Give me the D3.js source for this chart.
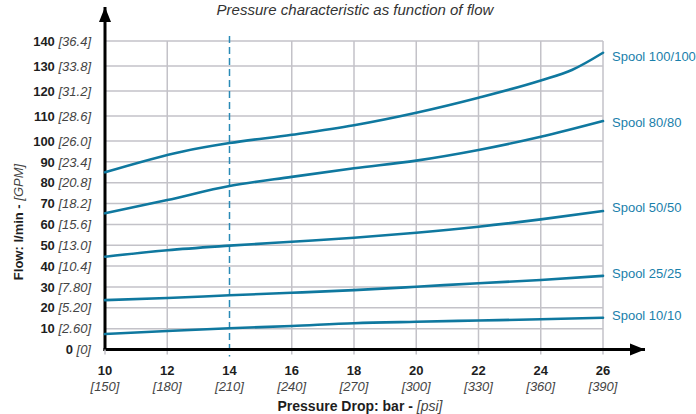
<!DOCTYPE html>
<html>
<head>
<meta charset="utf-8">
<script src="https://cdn.jsdelivr.net/npm/d3@7"></script>
<style>
  html, body { margin: 0; padding: 0; background: #fff; }
  svg { display: block; font-family: "Liberation Sans", Arial, Helvetica, sans-serif; }
</style>
</head>
<body>
<svg id="chart" width="696" height="414"></svg>
<script>
// ---- data ----
const pressureBar = [10, 12, 14, 16, 18, 20, 22, 24, 26];
const pressurePsi = ["[150]", "[180]", "[210]", "[240]", "[270]", "[300]", "[330]", "[360]", "[390]"];
const flowTicks = [0, 10, 20, 30, 40, 50, 60, 70, 80, 90, 100, 110, 120, 130, 140];
const flowGpm = ["[0]", "[2.60]", "[5.20]", "[7.80]", "[10.4]", "[13.0]", "[15.6]", "[18.2]", "[20.8]", "[23.4]", "[26.0]", "[28.6]", "[31.2]", "[33.8]", "[36.4]"];

const spool100x = [10, 12.5, 14, 16, 18, 20, 22, 24, 25, 26];
const spool100y = [85, 95, 99, 102.5, 106.3, 111.3, 117.3, 124.2, 128.4, 135.3];
const spool80x = [10, 12, 14, 16, 18, 20, 22, 24, 26];
const spool80y = [65.3, 71.7, 78.4, 82.8, 86.9, 90.6, 95.7, 101.7, 108];
const spool50x = [10, 12, 14, 16, 18, 20, 22, 24, 26];
const spool50y = [44.5, 47.6, 49.8, 51.7, 53.6, 56, 58.9, 62.4, 66.4];
const spool25x = [10, 12, 14, 16, 18, 20, 22, 24, 26];
const spool25y = [23.7, 24.7, 26, 27.2, 28.5, 30.1, 31.8, 33.3, 35.3];
const spool10x = [10, 12, 14, 16, 18, 20, 22, 24, 26];
const spool10y = [7.4, 8.9, 10.2, 11.3, 12.6, 13.3, 13.9, 14.5, 15.2];
const spoolNames = ["Spool 100/100", "Spool 80/80", "Spool 50/50", "Spool 25/25", "Spool 10/10"];

const title = "Pressure characteristic as function of flow";
const referencePressure = 14;

// ---- layout ----
const svg = d3.select("#chart");
const x = d3.scaleLinear().domain([10, 26]).range([105, 603]);
const y = d3.scaleLinear().domain([0, 100, 140]).range([349.5, 141, 41]);

const lineColor = "#0f789f";
const textColor = "#1a80ab";
const gridColor = "#c3c2c8";

// grid
const g = svg.append("g");
g.selectAll("line.h").data(flowTicks.filter(d => d > 0)).join("line")
  .attr("x1", x(10)).attr("x2", x(26))
  .attr("y1", d => y(d)).attr("y2", d => y(d))
  .attr("stroke", gridColor).attr("stroke-width", 1.5);
g.selectAll("line.v").data(pressureBar.filter(d => d > 10 && d !== referencePressure)).join("line")
  .attr("x1", d => x(d)).attr("x2", d => x(d))
  .attr("y1", y(140)).attr("y2", y(0) + 5)
  .attr("stroke", gridColor).attr("stroke-width", 1.5);

// reference dashed line
svg.append("line")
  .attr("x1", x(referencePressure)).attr("x2", x(referencePressure))
  .attr("y1", y(140) - 5).attr("y2", y(0) + 7)
  .attr("stroke", "#2a8ab6").attr("stroke-width", 1.5)
  .attr("stroke-dasharray", "7,4");

// axes with arrows
const defs = svg.append("defs");
defs.append("marker").attr("id", "arr").attr("viewBox", "0 0 10 10")
  .attr("refX", 10).attr("refY", 5).attr("markerWidth", 6).attr("markerHeight", 5)
  .attr("markerUnits", "strokeWidth").attr("orient", "auto")
  .append("path").attr("d", "M0,1 L10,5 L0,9 Z").attr("fill", "#000");
svg.append("line")
  .attr("x1", x(10)).attr("x2", x(10)).attr("y1", y(0) + 1.5).attr("y2", 7)
  .attr("stroke", "#000").attr("stroke-width", 3).attr("marker-end", "url(#arr)");
svg.append("line")
  .attr("x1", x(10) - 1.5).attr("x2", 645).attr("y1", y(0)).attr("y2", y(0))
  .attr("stroke", "#000").attr("stroke-width", 3).attr("marker-end", "url(#arr)");
// x tick at start
svg.append("line").attr("x1", x(10)).attr("x2", x(10)).attr("y1", y(0)).attr("y2", y(0) + 5)
  .attr("stroke", gridColor).attr("stroke-width", 1.5);

// y tick labels
const yl = svg.append("g").attr("font-size", 13);
flowTicks.forEach((v, i) => {
  const t = yl.append("text").attr("x", 91).attr("y", y(v)).attr("dy", "0.36em").attr("text-anchor", "end");
  t.append("tspan").attr("font-weight", "bold").attr("fill", "#1e1e1e").text(v + " ");
  t.append("tspan").attr("font-style", "italic").attr("fill", "#444").text(flowGpm[i]);
});

// x tick labels
const xl = svg.append("g").attr("font-size", 13).attr("text-anchor", "middle");
pressureBar.forEach((v, i) => {
  xl.append("text").attr("x", x(v)).attr("y", 375).attr("font-weight", "bold").attr("fill", "#1e1e1e").text(v);
  xl.append("text").attr("x", x(v)).attr("y", 391).attr("font-style", "italic").attr("fill", "#444").text(pressurePsi[i]);
});

// axis titles
const xt = svg.append("text").attr("x", 360).attr("y", 411).attr("text-anchor", "middle").attr("font-size", 14);
xt.append("tspan").attr("font-weight", "bold").attr("fill", "#1e1e1e").text("Pressure Drop: bar - ");
xt.append("tspan").attr("font-style", "italic").attr("fill", "#444").text("[psi]");

const yt = svg.append("text").attr("transform", "translate(23,222) rotate(-90)").attr("text-anchor", "middle").attr("font-size", 13);
yt.append("tspan").attr("font-weight", "bold").attr("fill", "#1e1e1e").text("Flow: l/min - ");
yt.append("tspan").attr("font-style", "italic").attr("fill", "#444").text("[GPM]");

svg.append("text").attr("x", 355).attr("y", 15).attr("text-anchor", "middle")
  .attr("font-size", 15).attr("font-style", "italic").attr("fill", "#333").text(title);

// series
const series = [
  { name: spoolNames[0], xs: spool100x, ys: spool100y, dy: 3.5 },
  { name: spoolNames[1], xs: spool80x, ys: spool80y, dy: 1 },
  { name: spoolNames[2], xs: spool50x, ys: spool50y, dy: -3.5 },
  { name: spoolNames[3], xs: spool25x, ys: spool25y, dy: -3 },
  { name: spoolNames[4], xs: spool10x, ys: spool10y, dy: -2.5 }
];
const line = d3.line().x(d => x(d[0])).y(d => y(d[1])).curve(d3.curveMonotoneX);
series.forEach(s => {
  const pts = s.xs.map((v, i) => [v, s.ys[i]]);
  svg.append("path").attr("d", line(pts)).attr("fill", "none")
    .attr("stroke", lineColor).attr("stroke-width", 2.6).attr("stroke-linecap", "round");
  const last = pts[pts.length - 1];
  svg.append("text").attr("x", x(last[0]) + 9).attr("y", y(last[1]) + s.dy).attr("dy", "0.36em")
    .attr("font-size", 13).attr("fill", textColor).text(s.name);
});
</script>
</body>
</html>
